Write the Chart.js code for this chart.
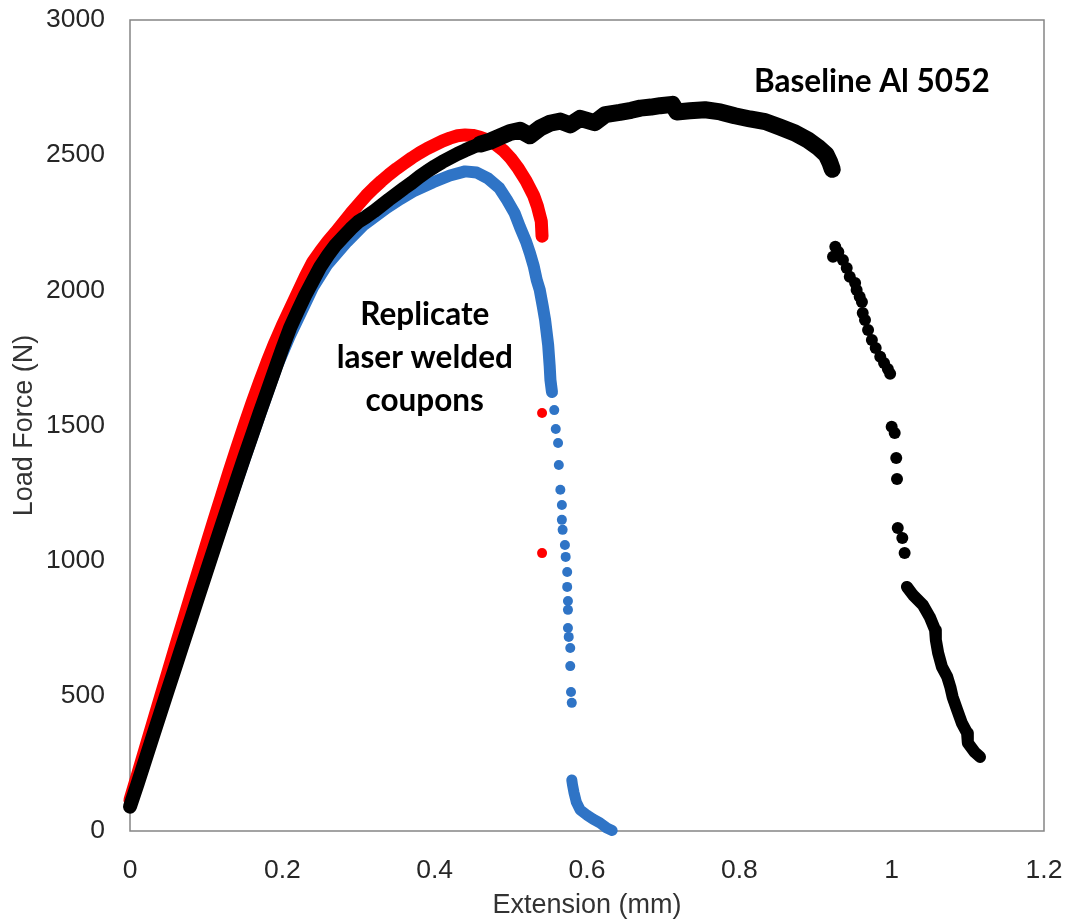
<!DOCTYPE html>
<html>
<head>
<meta charset="utf-8">
<script src="https://cdn.jsdelivr.net/npm/chart.js@4.4.0/dist/chart.umd.min.js"></script>
<style>
  body { margin: 0; background: #fff; }
</style>
</head>
<body>
<canvas id="chart" width="1067" height="923"></canvas>
<script>
// tick positions
const xTicks = [0, 0.2, 0.4, 0.6, 0.8, 1, 1.2];
const yTicks = [0, 500, 1000, 1500, 2000, 2500, 3000];

// Baseline Al 5052 (black)
const blackRiseX = [0, 0.01, 0.02, 0.03, 0.04, 0.05, 0.06, 0.07, 0.08, 0.09, 0.1, 0.11, 0.12, 0.13, 0.14, 0.15, 0.16, 0.17, 0.18, 0.19, 0.2, 0.21, 0.22, 0.23, 0.24, 0.25, 0.26, 0.27, 0.28, 0.29, 0.3, 0.31, 0.32, 0.33, 0.34, 0.35, 0.36, 0.37, 0.38, 0.39, 0.4, 0.41, 0.42, 0.43, 0.44, 0.45, 0.46];
const blackRiseY = [90, 175, 262, 350, 437, 524, 610, 697, 783, 870, 956, 1042, 1128, 1213, 1298, 1382, 1463, 1545, 1625, 1705, 1785, 1860, 1922, 1982, 2035, 2088, 2130, 2168, 2198, 2228, 2254, 2272, 2292, 2314, 2336, 2357, 2378, 2398, 2420, 2440, 2458, 2475, 2490, 2505, 2518, 2530, 2541];
const blackTopX = [0.46, 0.473, 0.486, 0.499, 0.512, 0.525, 0.538, 0.551, 0.565, 0.578, 0.591, 0.61, 0.624, 0.643, 0.658, 0.67, 0.684, 0.696, 0.712, 0.718, 0.735, 0.755, 0.775, 0.794, 0.814, 0.834, 0.853, 0.873, 0.89, 0.903, 0.914, 0.919, 0.922];
const blackTopY = [2541, 2552, 2568, 2584, 2592, 2572, 2600, 2618, 2626, 2612, 2636, 2620, 2650, 2658, 2666, 2674, 2678, 2683, 2688, 2660, 2664, 2668, 2660, 2646, 2634, 2624, 2604, 2582, 2556, 2530, 2502, 2472, 2448];
const blackDropX = [0.923, 0.926, 0.93, 0.936, 0.941, 0.945, 0.952, 0.954, 0.958, 0.961, 0.962, 0.965, 0.969, 0.974, 0.979, 0.985, 0.99, 0.995, 0.998, 1.0, 1.004, 1.006, 1.007, 1.008, 1.014, 1.017];
const blackDropY = [2124, 2161, 2142, 2112, 2083, 2050, 2027, 2001, 1976, 1957, 1916, 1890, 1853, 1816, 1787, 1754, 1731, 1709, 1691, 1495, 1472, 1380, 1302, 1121, 1084, 1028];
const blackTailX = [1.02, 1.028, 1.041, 1.05, 1.057, 1.058, 1.061, 1.066, 1.073, 1.077, 1.08, 1.086, 1.092, 1.099, 1.1, 1.109, 1.116];
const blackTailY = [903, 873, 836, 792, 744, 707, 659, 607, 570, 533, 496, 448, 400, 363, 326, 292, 274];

// replicate coupon 1 (red)
const redCurveX = [0, 0.01, 0.02, 0.03, 0.04, 0.05, 0.06, 0.07, 0.08, 0.09, 0.1, 0.11, 0.12, 0.13, 0.14, 0.15, 0.16, 0.17, 0.18, 0.19, 0.2, 0.21, 0.22, 0.23, 0.24, 0.25, 0.26, 0.27, 0.28, 0.29, 0.3, 0.31, 0.32, 0.33, 0.34, 0.35, 0.36, 0.37, 0.38, 0.39, 0.4, 0.41, 0.42, 0.43, 0.44, 0.45, 0.46, 0.47, 0.48, 0.49, 0.5, 0.51, 0.52, 0.53, 0.535, 0.54, 0.541];
const redCurveY = [115, 210, 305, 400, 495, 590, 685, 778, 872, 964, 1056, 1148, 1238, 1328, 1415, 1500, 1582, 1660, 1735, 1805, 1870, 1930, 1990, 2050, 2105, 2145, 2182, 2215, 2250, 2285, 2318, 2350, 2378, 2404, 2428, 2450, 2470, 2490, 2508, 2524, 2538, 2552, 2563, 2572, 2575, 2573, 2566, 2556, 2540, 2518, 2488, 2450, 2405, 2350, 2310, 2255, 2200];
const redDotX = [0.541, 0.541];
const redDotY = [1546, 1028];

// replicate coupon 2 (blue)
const blueCurveX = [0, 0.03, 0.06, 0.09, 0.12, 0.15, 0.17, 0.193, 0.21, 0.226, 0.24, 0.259, 0.285, 0.306, 0.337, 0.355, 0.372, 0.398, 0.42, 0.44, 0.455, 0.47, 0.485, 0.495, 0.505, 0.512, 0.52, 0.525, 0.53, 0.534, 0.538, 0.542, 0.545, 0.549, 0.551, 0.552, 0.554];
const blueCurveY = [100, 355, 612, 868, 1122, 1372, 1535, 1720, 1832, 1927, 2010, 2095, 2180, 2240, 2305, 2338, 2366, 2400, 2425, 2440, 2436, 2414, 2378, 2334, 2285, 2234, 2180, 2138, 2090, 2038, 2001, 1940, 1890, 1798, 1720, 1668, 1624];
const blueDotX = [0.557, 0.559, 0.562, 0.563, 0.565, 0.567, 0.567, 0.568, 0.571, 0.572, 0.574, 0.574, 0.575, 0.575, 0.575, 0.576, 0.578, 0.578, 0.579, 0.58];
const blueDotY = [1557, 1487, 1435, 1354, 1262, 1206, 1151, 1114, 1058, 1014, 958, 903, 851, 818, 751, 718, 677, 610, 514, 474];
const blueTailX = [0.58, 0.581, 0.583, 0.586, 0.591, 0.6, 0.608, 0.617, 0.626, 0.633];
const blueTailY = [189, 170, 141, 107, 78, 59, 44, 30, 11, 2];

const BLACK = '#000000', RED = '#ff0000', BLUE = '#2f74c6';

function pts(xs, ys) { return xs.map((x, i) => ({ x: x, y: ys[i] })); }

function curve(xs, ys, color, width, order) {
  return {
    data: pts(xs, ys), showLine: true, borderColor: color, backgroundColor: color,
    borderWidth: width, borderCapStyle: 'round', borderJoinStyle: 'round',
    pointRadius: 0, pointHoverRadius: 0, order: order, clip: false
  };
}
function dots(xs, ys, color, r, order) {
  return {
    data: pts(xs, ys), showLine: false, backgroundColor: color, borderColor: color,
    pointRadius: r, pointBorderWidth: 0, order: order, clip: false
  };
}

const notes = [
  { lines: ['Baseline Al 5052'], x: 0.974, y: 2771 },
  { lines: ['Replicate', 'laser welded', 'coupons'], x: 0.387, y: 1909 }
];

const framePlugin = {
  id: 'frame',
  beforeDatasetsDraw(chart) {
    const { ctx, chartArea: a } = chart;
    ctx.save();
    ctx.strokeStyle = '#858585';
    ctx.lineWidth = 1.5;
    ctx.strokeRect(a.left, a.top, a.right - a.left, a.bottom - a.top);
    ctx.restore();
  },
  afterDatasetsDraw(chart) {
    const { ctx, scales } = chart;
    ctx.save();
    ctx.fillStyle = '#000';
    ctx.font = 'bold 31.5px Lato';
    ctx.textAlign = 'center';
    ctx.textBaseline = 'middle';
    notes.forEach(n => {
      const px = scales.x.getPixelForValue(n.x);
      const py = scales.y.getPixelForValue(n.y);
      n.lines.forEach((t, i) => ctx.fillText(t, px, py + i * 43));
    });
    ctx.restore();
  }
};

new Chart(document.getElementById('chart'), {
  type: 'scatter',
  data: {
    datasets: [
      curve(blackRiseX, blackRiseY, BLACK, 14, 1),
      curve(blackTopX, blackTopY, BLACK, 17, 1),
      dots(blackDropX, blackDropY, BLACK, 6, 1),
      curve(blackTailX, blackTailY, BLACK, 12, 1),
      curve(redCurveX, redCurveY, RED, 13, 2),
      dots(redDotX, redDotY, RED, 5, 2),
      curve(blueCurveX, blueCurveY, BLUE, 12, 3),
      dots(blueDotX, blueDotY, BLUE, 5, 3),
      curve(blueTailX, blueTailY, BLUE, 11, 3)
    ]
  },
  options: {
    responsive: false,
    animation: false,
    layout: { padding: { left: 0, right: 23, top: 20, bottom: 0 } },
    plugins: { legend: { display: false }, tooltip: { enabled: false } },
    scales: {
      x: {
        type: 'linear', min: 0, max: 1.2,
        afterBuildTicks: s => { s.ticks = xTicks.map(v => ({ value: v })); },
        afterFit: s => { s.height = 92; s.paddingLeft = 0; s.paddingRight = 0; },
        grid: { display: false, drawTicks: false },
        border: { display: false },
        ticks: { padding: 24, color: '#262626', font: { family: 'Liberation Sans', size: 26.5 }, callback: v => String(v), maxRotation: 0 },
        title: { display: true, text: 'Extension (mm)', color: '#333', font: { family: 'Liberation Sans', size: 27 }, padding: { top: 0, bottom: 1 } }
      },
      y: {
        type: 'linear', min: 0, max: 3000,
        afterBuildTicks: s => { s.ticks = yTicks.map(v => ({ value: v })); },
        afterFit: s => { s.width = 130; s.paddingTop = 0; s.paddingBottom = 0; },
        grid: { display: false, drawTicks: false },
        border: { display: false },
        ticks: { padding: 25, color: '#262626', font: { family: 'Liberation Sans', size: 26.5 }, callback: v => String(v) },
        title: { display: true, text: 'Load Force (N)', color: '#333', font: { family: 'Liberation Sans', size: 27 }, padding: { top: 8, bottom: 0 } }
      }
    }
  },
  plugins: [framePlugin]
});
</script>
</body>
</html>
